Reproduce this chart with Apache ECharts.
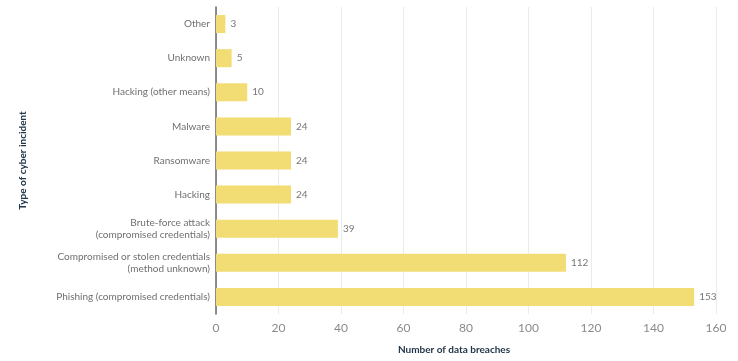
<!DOCTYPE html>
<html><head><meta charset="utf-8">
<script src="https://cdn.jsdelivr.net/npm/echarts@6/dist/echarts.min.js"></script>
<style>html,body{margin:0;padding:0;background:#fff}#c{width:738px;height:361px}</style>
</head><body><div id="c"></div>
<script>
const categories = [
  "Other",
  "Unknown",
  "Hacking (other means)",
  "Malware",
  "Ransomware",
  "Hacking",
  "Brute-force attack\n(compromised credentials)",
  "Compromised or stolen credentials\n(method unknown)",
  "Phishing (compromised credentials)"
];
const breaches = [3, 5, 10, 24, 24, 24, 39, 112, 153];
const xTicks = [0, 20, 40, 60, 80, 100, 120, 140, 160];

const chart = echarts.init(document.getElementById('c'));
const font = 'Lato, "Source Sans Pro", "Noto Sans", sans-serif';
chart.setOption({
  animation: false,
  textStyle: { fontFamily: font },
  grid: { left: 216, right: 22, top: 7, bottom: 47 },
  xAxis: {
    type: 'value', min: xTicks[0], max: xTicks[xTicks.length - 1], interval: 20,
    name: 'Number of data breaches', nameLocation: 'middle', nameGap: 31,
    nameTextStyle: { fontFamily: font, fontSize: 10, fontWeight: 'bold', color: '#22374a', padding: [0, 24, 0, 0] },
    axisLine: { show: false }, axisTick: { show: false },
    axisLabel: { color: '#8a8a8a', fontSize: 12, margin: 8, fontFamily: font },
    splitLine: { lineStyle: { color: '#ebebeb', width: 1 } }
  },
  yAxis: {
    type: 'category', data: categories, inverse: true,
    name: 'Type of cyber incident', nameLocation: 'middle', nameGap: 188, nameRotate: 90,
    nameTextStyle: { fontFamily: font, fontSize: 10, fontWeight: 'bold', color: '#22374a' },
    axisLine: { show: true, lineStyle: { color: '#666', width: 1.5 } },
    axisTick: { show: false },
    axisLabel: { color: '#6f6f6f', fontSize: 10, margin: 6, lineHeight: 12, fontFamily: font }
  },
  series: [{
    type: 'bar', data: breaches, barWidth: 18,
    itemStyle: { color: '#f2dc74' },
    label: { show: true, position: 'right', distance: 5, color: '#777', fontSize: 10, fontFamily: font }
  }]
});
</script></body></html>
